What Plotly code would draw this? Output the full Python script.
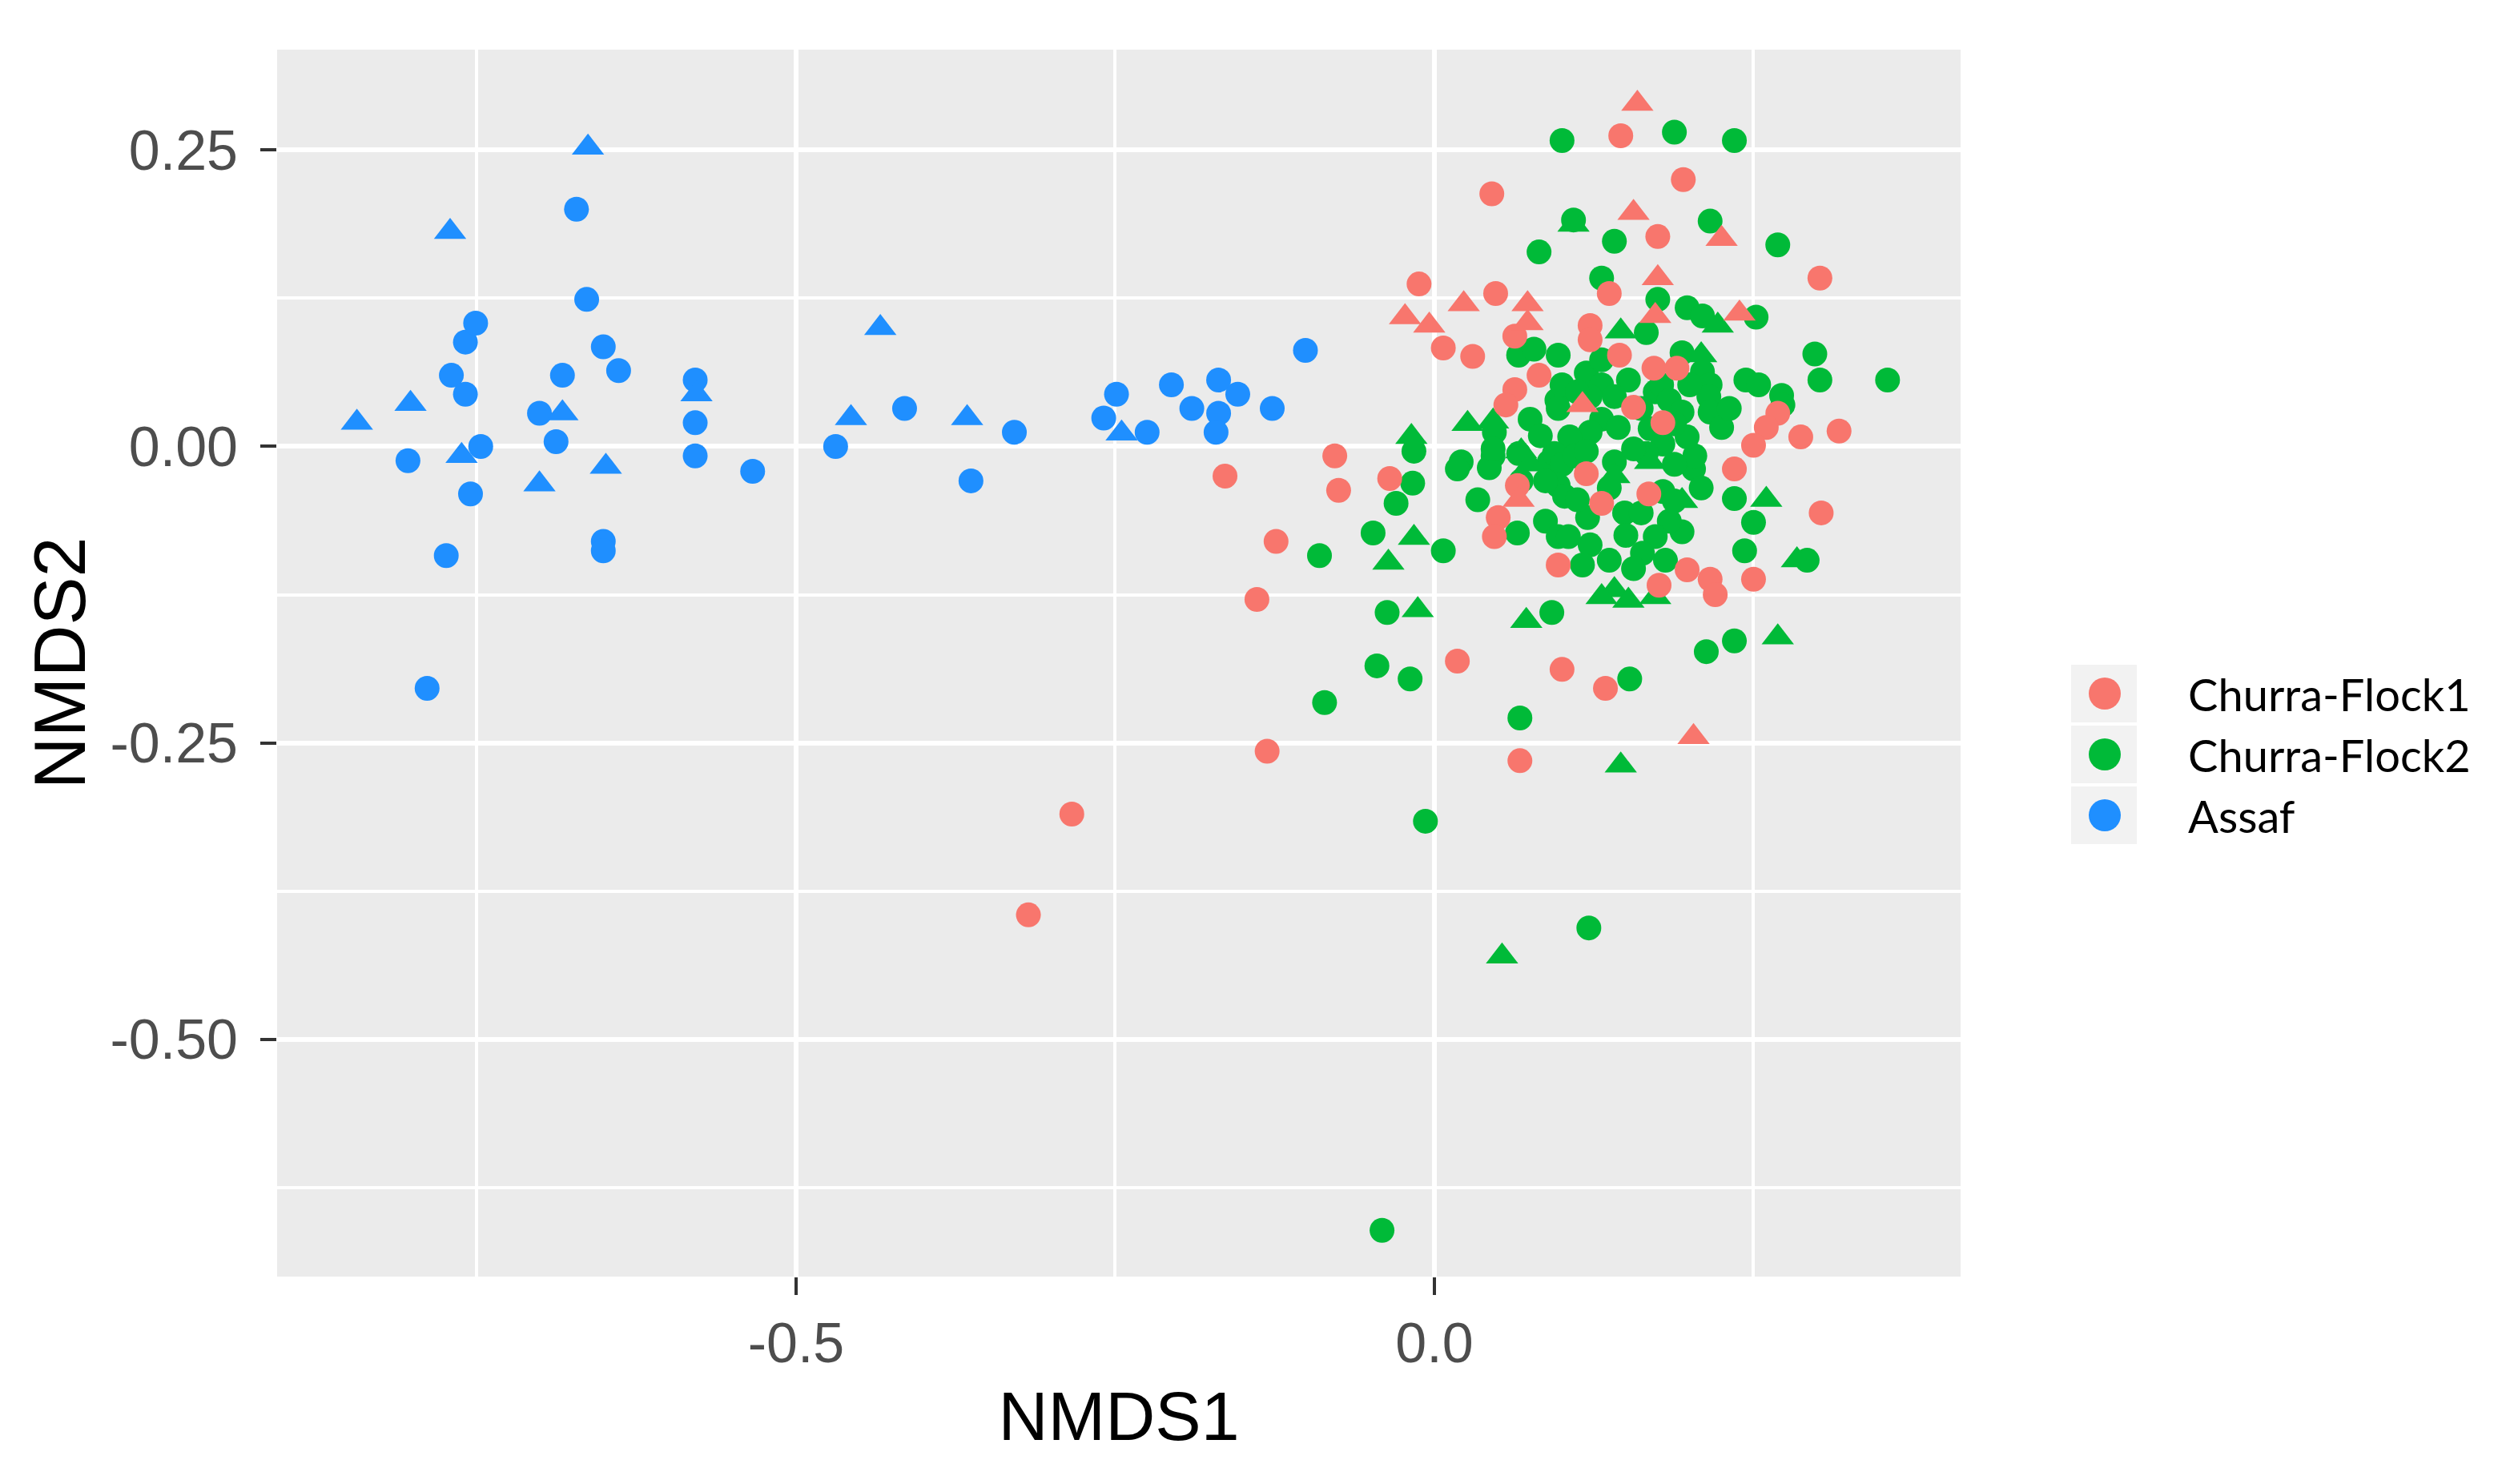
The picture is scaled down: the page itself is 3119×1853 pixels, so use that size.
import plotly.graph_objects as go

# NMDS coordinates
flock1_circ_x = [0.045, -0.012, 0.048, 0.007, 0.030, 0.063, 0.082, 0.063, 0.056, 0.146,
                 0.195, 0.175, 0.302, 0.137, 0.122, 0.122, 0.145, 0.172, 0.190, 0.156,
                 0.179, 0.269, 0.260, 0.250, 0.287, 0.317, -0.164, -0.078, -0.075, -0.035,
                 0.065, 0.050, 0.047, 0.097, -0.124, -0.139, 0.018, 0.100, -0.131, 0.067,
                 0.119, 0.131, 0.168, 0.176, 0.198, 0.216, 0.220, 0.250, 0.235, 0.303,
                 0.134, -0.284, -0.318]
flock1_circ_y = [0.213, 0.137, 0.129, 0.083, 0.076, 0.093, 0.060, 0.048, 0.035, 0.262,
                 0.225, 0.177, 0.142, 0.129, 0.102, 0.090, 0.077, 0.066, 0.066, 0.033,
                 0.020, 0.028, 0.016, 0.001, 0.008, 0.013, -0.025, -0.008, -0.037, -0.027,
                 -0.033, -0.060, -0.076, -0.100, -0.080, -0.129, -0.181, -0.188, -0.257, -0.265,
                 -0.023, -0.048, -0.040, -0.117, -0.104, -0.112, -0.125, -0.112, -0.019, -0.056,
                 -0.204, -0.310, -0.395]
flock1_tri_x = [0.023, 0.073, 0.073, -0.023, -0.004, 0.159, 0.156, 0.225, 0.175, 0.173,
                0.239, 0.116, 0.203, 0.066]
flock1_tri_y = [0.120, 0.120, 0.104, 0.109, 0.102, 0.289, 0.197, 0.175, 0.142, 0.110,
                0.112, 0.035, -0.245, -0.045]

flock2_circ_x = [0.100, 0.082, 0.066, 0.078, 0.097, 0.096, 0.075, 0.188, 0.235, 0.109,
                 0.141, 0.216, 0.269, 0.131, 0.175, 0.198, 0.210, 0.252, 0.166, 0.298,
                 0.302, 0.355, 0.244, 0.254, 0.272, 0.273, -0.016, -0.017, -0.030, 0.021,
                 0.018, 0.046, 0.043, 0.066, 0.090, 0.034, 0.065, 0.087, 0.097, -0.090,
                 -0.048, 0.007, -0.037, 0.092, -0.045, -0.019, -0.086, 0.067, 0.141, 0.120,
                 0.149, 0.150, 0.105, 0.122, 0.116, 0.203, 0.204, 0.179, 0.194, 0.184,
                 0.173, 0.163, 0.156, 0.235, 0.250, 0.243, 0.292, 0.213, 0.235, 0.153,
                 -0.007, 0.121, -0.041, 0.100, 0.119, 0.131, 0.152, 0.141, 0.122, 0.097,
                 0.131, 0.144, 0.122, 0.106, 0.094, 0.173, 0.178, 0.047, 0.046, 0.100,
                 0.110, 0.097, 0.102, 0.188, 0.210, 0.216, 0.215, 0.216, 0.225, 0.184,
                 0.194, 0.169, 0.179, 0.198, 0.166, 0.188, 0.194,
                 0.112, 0.162, 0.083, 0.119, 0.188, 0.156, 0.087, 0.137, 0.112, 0.200,
                 0.231, 0.209, 0.162, 0.137, 0.181, 0.068, 0.131]
flock2_circ_y = [0.258, 0.164, 0.077, 0.082, 0.077, 0.039, 0.023, 0.265, 0.258, 0.191,
                 0.173, 0.190, 0.170, 0.142, 0.124, 0.117, 0.110, 0.109, 0.096, 0.078,
                 0.056, 0.056, 0.056, 0.052, 0.043, 0.035, -0.004, -0.031, -0.048, -0.013,
                 -0.019, -0.008, -0.018, -0.006, -0.013, -0.045, -0.073, -0.063, -0.076, -0.092,
                 -0.073, -0.088, -0.140, -0.140, -0.185, -0.196, -0.216, -0.229, -0.013, -0.060,
                 -0.056, -0.075, -0.076, -0.083, -0.100, -0.019, -0.008, -0.038, -0.072, -0.063,
                 -0.076, -0.090, -0.103, -0.044, -0.064, -0.088, -0.096, -0.173, -0.164, -0.196,
                 -0.316, -0.406, -0.661, 0.052, 0.062, 0.052, 0.056, 0.042, 0.042, 0.032,
                 0.023, 0.016, 0.012, 0.008, -0.006, 0.046, 0.052, 0.012, -0.002, -0.015,
                 -0.008, -0.033, -0.042, -0.046, 0.063, 0.052, 0.042, 0.029, 0.016, 0.039,
                 0.029, 0.015, 0.002, 0.008, -0.006, -0.015, 0.079,
                 0.046, 0.032, 0.009, -0.004, 0.019, -0.002, -0.029, -0.035, -0.045, 0.052,
                 0.032, -0.035, -0.056, -0.096, -0.096, -0.029, 0.073]
flock2_tri_x = [0.026, 0.046, -0.018, 0.109, 0.146, 0.141, 0.169, 0.194, 0.141, 0.152,
                0.173, 0.131, 0.260, 0.284, 0.269, 0.146, -0.016, -0.036, -0.013, 0.072,
                0.053, 0.068, 0.075, 0.209, 0.222]
flock2_tri_y = [0.019, 0.021, 0.008, 0.187, 0.097, -0.025, -0.013, -0.046, -0.121, -0.130,
                -0.127, -0.127, -0.045, -0.096, -0.161, -0.269, -0.077, -0.098, -0.138, -0.147,
                -0.430, -0.004, -0.015, 0.077, 0.102]

assaf_circ_x = [-0.804, -0.789, -0.774, -0.770, -0.759, -0.759, -0.751, -0.755, -0.747, -0.701,
                -0.688, -0.683, -0.672, -0.664, -0.651, -0.639, -0.651, -0.651, -0.579, -0.579,
                -0.579, -0.534, -0.469, -0.415, -0.363, -0.329, -0.259, -0.249, -0.225, -0.206,
                -0.190, -0.169, -0.169, -0.171, -0.154, -0.127, -0.101]
assaf_circ_y = [-0.012, -0.204, -0.092, 0.060, 0.044, 0.088, 0.104, -0.040, 0.000, 0.028,
                0.004, 0.060, 0.200, 0.124, 0.084, 0.064, -0.080, -0.088, 0.056, 0.020,
                -0.008, -0.021, 0.000, 0.032, -0.029, 0.012, 0.024, 0.044, 0.012, 0.052,
                0.032, 0.056, 0.028, 0.012, 0.044, 0.032, 0.081]
assaf_tri_x = [-0.844, -0.802, -0.771, -0.762, -0.701, -0.683, -0.663, -0.649, -0.578, -0.434,
               -0.457, -0.366, -0.245]
assaf_tri_y = [0.020, 0.036, 0.181, -0.008, -0.032, 0.028, 0.252, -0.017, 0.044, 0.100,
               0.024, 0.024, 0.011]

groups = ["Churra-Flock1", "Churra-Flock2", "Assaf"]
colors = ["#F8766D", "#00BA38", "#1F8FFF"]

x_tickvals = [-0.5, 0.0]
x_ticktext = ["-0.5", "0.0"]
y_tickvals = [0.25, 0.0, -0.25, -0.5]
y_ticktext = ["0.25", "0.00", "-0.25", "-0.50"]

fig = go.Figure()

# drawing order: flock2 underneath, then flock1, then assaf
series = [
    (1, flock2_circ_x, flock2_circ_y, flock2_tri_x, flock2_tri_y),
    (0, flock1_circ_x, flock1_circ_y, flock1_tri_x, flock1_tri_y),
    (2, assaf_circ_x, assaf_circ_y, assaf_tri_x, assaf_tri_y),
]
for gi, cx, cy, tx, ty in series:
    fig.add_trace(go.Scatter(x=cx, y=cy, mode="markers", name=groups[gi],
                             legendgroup=groups[gi],
                             marker=dict(color=colors[gi], size=31, symbol="circle",
                                         line=dict(width=0))))
    fig.add_trace(go.Scatter(x=tx, y=ty, mode="markers", name=groups[gi],
                             legendgroup=groups[gi], showlegend=False,
                             marker=dict(color=colors[gi], size=35, symbol="triangle-up",
                                         line=dict(width=0))))

# page has an 8px body margin, so the figure is a bit smaller than the window
W, H = 3103, 1837
OFF = 8
# plot area in page pixels
PL, PR, PT, PB = 346, 2448, 62, 1594


def to_paper(px, py):
    return (px - PL) / (PR - PL), (PB - py) / (PB - PT)


# ggplot-like legend with grey key boxes
shapes = []
annotations = []
row_y = [866, 942, 1018]
for i, name in enumerate(groups):
    bx0, by0 = to_paper(2586, row_y[i] + 36)
    bx1, by1 = to_paper(2668, row_y[i] - 36)
    shapes.append(dict(type="rect", xref="paper", yref="paper", x0=bx0, x1=bx1,
                       y0=by0, y1=by1, fillcolor="#F2F2F2", line=dict(width=0), layer="below"))
    cx0, cy0 = to_paper(2608, row_y[i] + 20)
    cx1, cy1 = to_paper(2648, row_y[i] - 20)
    shapes.append(dict(type="circle", xref="paper", yref="paper", x0=cx0, x1=cx1,
                       y0=cy0, y1=cy1, fillcolor=colors[i], line=dict(width=0)))
    tx, ty = to_paper(2730, row_y[i])
    annotations.append(dict(text=name, xref="paper", yref="paper", x=tx, y=ty,
                            xanchor="left", yanchor="middle", showarrow=False,
                            font=dict(family="Lato", size=56, color="black")))

fig.update_layout(
    width=W,
    height=H,
    margin=dict(l=PL - OFF, r=W - (PR - OFF), t=PT - OFF, b=H - (PB - OFF)),
    plot_bgcolor="#EBEBEB",
    paper_bgcolor="white",
    showlegend=False,
    shapes=shapes,
    annotations=annotations,
    font=dict(family="Liberation Sans, Arial", color="#4D4D4D"),
)
fig.update_xaxes(
    range=[-0.9065, 0.4122],
    tickvals=x_tickvals, ticktext=x_ticktext,
    showgrid=True, gridcolor="white", gridwidth=6,
    minor=dict(tickvals=[-0.75, -0.25, 0.25], showgrid=True, gridcolor="white",
               gridwidth=4, ticks=""),
    zeroline=False, showline=False,
    ticks="outside", ticklen=22, tickwidth=4, tickcolor="#333333",
    tickfont=dict(size=70, color="#4D4D4D"),
    ticklabelstandoff=0,
    title=dict(text="NMDS1", font=dict(size=86, color="black"), standoff=22),
)
fig.update_yaxes(
    range=[-0.700, 0.3346],
    tickvals=y_tickvals, ticktext=y_ticktext,
    showgrid=True, gridcolor="white", gridwidth=6,
    minor=dict(tickvals=[0.125, -0.125, -0.375, -0.625], showgrid=True, gridcolor="white",
               gridwidth=4, ticks=""),
    zeroline=False, showline=False,
    ticks="outside", ticklen=20, tickwidth=4, tickcolor="#333333",
    tickfont=dict(size=70, color="#4D4D4D"),
    ticklabelstandoff=14,
    title=dict(text="NMDS2", font=dict(size=90, color="black"), standoff=0),
)

fig.write_html("out.html")
